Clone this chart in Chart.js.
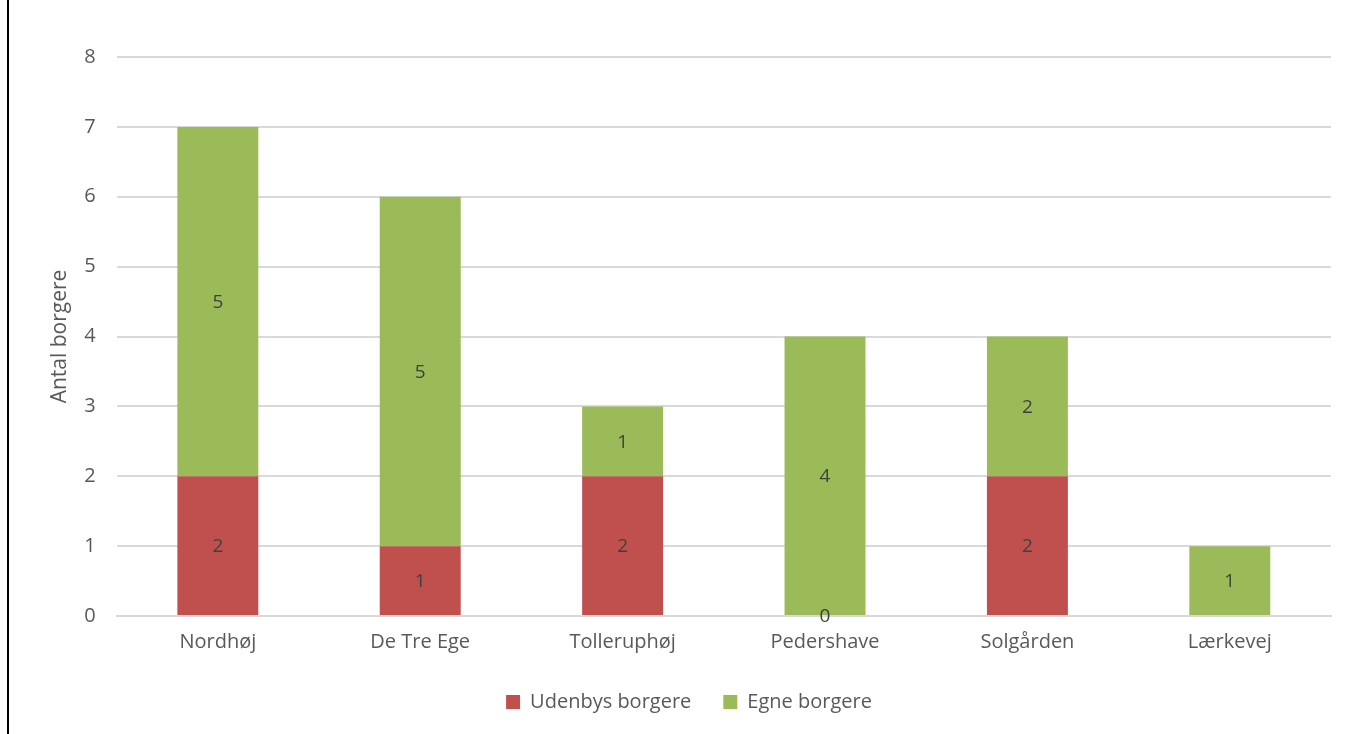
<!DOCTYPE html>
<html>
<head>
<meta charset="utf-8">
<script src="https://cdn.jsdelivr.net/npm/chart.js@4.4.1/dist/chart.umd.min.js"></script>
<style>
  html, body { margin: 0; padding: 0; background: #fff; }
  #wrap { position: relative; width: 1349px; height: 734px; }
  #edge { position: absolute; left: 7px; top: 0; width: 2px; height: 734px; background: #000; }
  canvas { position: absolute; left: 0; top: 0; }
</style>
</head>
<body>
<div id="wrap">
  <canvas id="chart" width="1349" height="734"></canvas>
  <div id="edge"></div>
</div>
<script>
const categories = ['Nordhøj', 'De Tre Ege', 'Tolleruphøj', 'Pedershave', 'Solgården', 'Lærkevej'];
const udenbys = [2, 1, 2, 0, 2, null];
const egne = [5, 5, 1, 4, 2, 1];
const yTicks = [0, 1, 2, 3, 4, 5, 6, 7, 8];

const font = "'Open Sans', 'Noto Sans', sans-serif";

// write the value in the middle of each bar segment
const barLabels = {
  id: 'barLabels',
  afterDatasetsDraw(chart) {
    const ctx = chart.ctx;
    ctx.save();
    ctx.font = '19px ' + font;
    ctx.fillStyle = '#404040';
    ctx.textAlign = 'center';
    ctx.textBaseline = 'middle';
    chart.data.datasets.forEach((ds, i) => {
      chart.getDatasetMeta(i).data.forEach((bar, j) => {
        const v = ds.data[j];
        if (v === null || v === undefined) return;
        const p = bar.getProps(['x', 'y', 'base'], true);
        ctx.fillText(String(v), p.x, (p.y + p.base) / 2 + 1);
      });
    });
    ctx.restore();
  }
};

new Chart(document.getElementById('chart').getContext('2d'), {
  type: 'bar',
  data: {
    labels: categories,
    datasets: [{
      label: 'Udenbys borgere',
      data: udenbys,
      backgroundColor: '#C0504D',
      categoryPercentage: 1,
      barPercentage: 0.4
    }, {
      label: 'Egne borgere',
      data: egne,
      backgroundColor: '#9BBB59',
      categoryPercentage: 1,
      barPercentage: 0.4
    }]
  },
  options: {
    responsive: false,
    animation: false,
    layout: { padding: { top: 57, right: 18, left: 47, bottom: 12 } },
    plugins: {
      tooltip: { enabled: false },
      legend: {
        position: 'bottom',
        labels: {
          boxWidth: 14,
          boxHeight: 14,
          padding: 32,
          color: '#595959',
          font: { family: font, size: 20 }
        }
      }
    },
    scales: {
      x: {
        stacked: true,
        grid: { display: false },
        border: { color: '#D9D9D9', width: 2 },
        ticks: { color: '#595959', font: { family: font, size: 20 }, padding: 6 }
      },
      y: {
        stacked: true,
        min: 0,
        max: 8,
        afterBuildTicks(axis) { axis.ticks = yTicks.map(v => ({ value: v })); },
        grid: { color: '#D9D9D9', lineWidth: 2, drawTicks: false },
        border: { display: false },
        ticks: { color: '#595959', font: { family: font, size: 20 }, padding: 21 },
        title: { display: true, text: 'Antal borgere', color: '#595959', font: { family: font, size: 21 }, padding: { top: 0, bottom: -9 } }
      }
    }
  },
  plugins: [barLabels]
});
</script>
</body>
</html>
